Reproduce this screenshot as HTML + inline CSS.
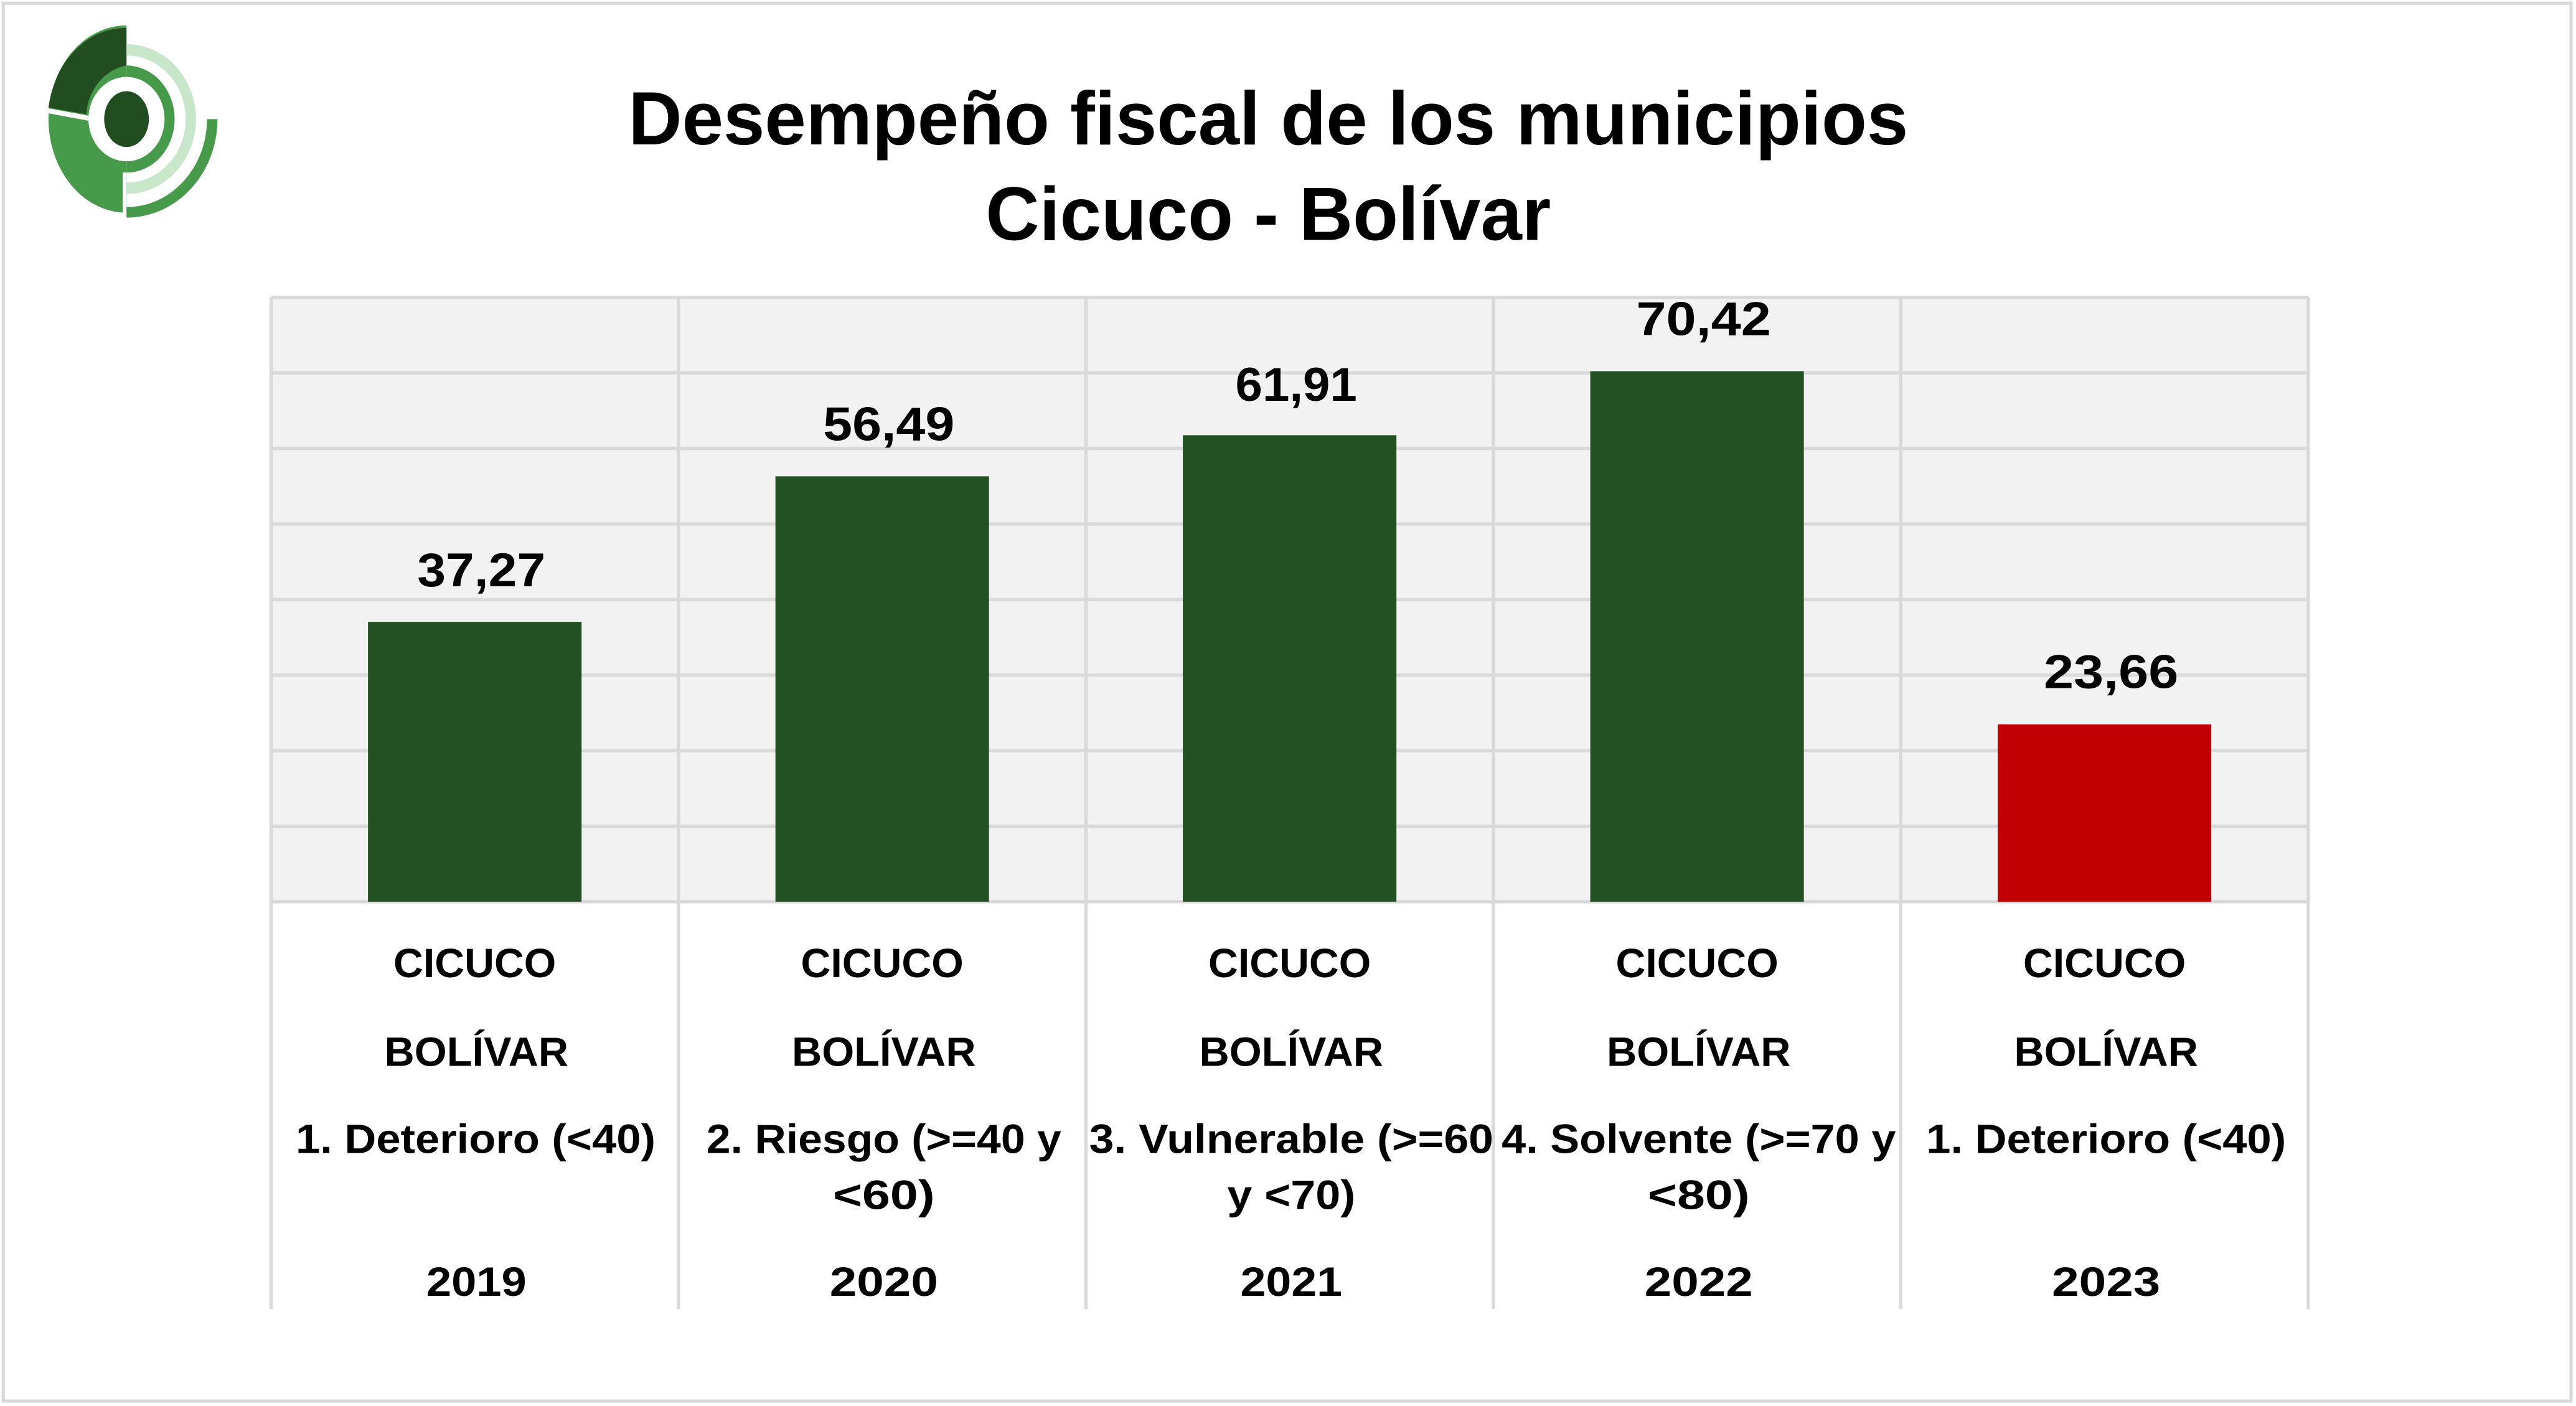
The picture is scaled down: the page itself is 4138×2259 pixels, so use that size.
<!DOCTYPE html>
<html><head><meta charset="utf-8"><style>
html,body{margin:0;padding:0;background:#fff;}
svg{display:block;}
text{font-family:"Liberation Sans Narrow","Liberation Sans",sans-serif;font-weight:bold;fill:#000;}
</style></head><body>
<svg width="4138" height="2259" viewBox="0 0 1568 856" xmlns="http://www.w3.org/2000/svg">
<rect x="0" y="0" width="1568" height="856" fill="#fff"/>
<rect x="2" y="2" width="1563" height="851" fill="none" stroke="#d9d9d9" stroke-width="2"/>
<!-- logo -->
<g>
<path d="M77,15.5 A47.5 57 0 0 0 77,129.5 L77,98.2 A23.2 25.7 0 0 1 77,46.8 Z" fill="#469a49"/>
<path d="M77,39.9 A29.3 32.6 0 0 1 77,105.1 L77,98.2 A23.2 25.7 0 0 0 77,46.8 Z" fill="#469a49"/>
<path d="M77,17 L77,39.9 A29.3 32.6 0 0 0 52.5,69.5 L29.5,65.5 A47.5 57 0 0 1 77,17 Z" fill="#214d20"/>
<path d="M77,26.9 A42.3 45.6 0 0 1 77,118.1 L77,111.2 A36 38.7 0 0 0 77,33.8 Z" fill="#c8e6c9"/>
<path d="M132.4,72.5 A55.4 60 0 0 1 77,132.5 L77,126.1 A49 53.6 0 0 0 126,72.5 Z" fill="#469a49"/>
<line x1="27" y1="67" x2="54" y2="72" stroke="#fff" stroke-width="3"/>
<line x1="75.8" y1="105" x2="75.8" y2="134" stroke="#fff" stroke-width="2.2"/>
<ellipse cx="77" cy="72.5" rx="13.6" ry="17" fill="#214d20"/>
</g>
<!-- title -->
<text x="772" y="88" font-size="46" text-anchor="middle" textLength="779" lengthAdjust="spacingAndGlyphs">Desempeño fiscal de los municipios</text>
<text x="772" y="146" font-size="46" text-anchor="middle" textLength="344" lengthAdjust="spacingAndGlyphs">Cicuco - Bolívar</text>
<!-- plot -->
<rect x="165" y="181" width="1240" height="368" fill="#f2f2f2"/>
<g stroke="#d9d9d9" stroke-width="2">
<line x1="165" y1="181" x2="1405" y2="181"/>
<line x1="165" y1="227" x2="1405" y2="227"/>
<line x1="165" y1="273" x2="1405" y2="273"/>
<line x1="165" y1="319" x2="1405" y2="319"/>
<line x1="165" y1="365" x2="1405" y2="365"/>
<line x1="165" y1="411" x2="1405" y2="411"/>
<line x1="165" y1="457" x2="1405" y2="457"/>
<line x1="165" y1="503" x2="1405" y2="503"/>
<line x1="165" y1="549" x2="1405" y2="549"/>
<line x1="165" y1="181" x2="165" y2="797"/>
<line x1="413" y1="181" x2="413" y2="797"/>
<line x1="661" y1="181" x2="661" y2="797"/>
<line x1="909" y1="181" x2="909" y2="797"/>
<line x1="1157" y1="181" x2="1157" y2="797"/>
<line x1="1405" y1="181" x2="1405" y2="797"/>
</g>
<rect x="224" y="378.6" width="130" height="170.4" fill="#235123"/>
<rect x="472" y="290" width="130" height="259" fill="#235123"/>
<rect x="720" y="265" width="130" height="284" fill="#235123"/>
<rect x="968" y="226" width="130" height="323" fill="#235123"/>
<rect x="1216" y="441" width="130" height="108" fill="#c00000"/>
<g font-size="29" text-anchor="middle">
<text x="293" y="357" textLength="78" lengthAdjust="spacingAndGlyphs">37,27</text>
<text x="541" y="268" textLength="80" lengthAdjust="spacingAndGlyphs">56,49</text>
<text x="789" y="244" textLength="74" lengthAdjust="spacingAndGlyphs">61,91</text>
<text x="1037" y="204" textLength="82" lengthAdjust="spacingAndGlyphs">70,42</text>
<text x="1285" y="419" textLength="82" lengthAdjust="spacingAndGlyphs">23,66</text>
</g>
<g font-size="25" text-anchor="middle">
<text x="289" y="595" textLength="99" lengthAdjust="spacingAndGlyphs">CICUCO</text>
<text x="537" y="595" textLength="99" lengthAdjust="spacingAndGlyphs">CICUCO</text>
<text x="785" y="595" textLength="99" lengthAdjust="spacingAndGlyphs">CICUCO</text>
<text x="1033" y="595" textLength="99" lengthAdjust="spacingAndGlyphs">CICUCO</text>
<text x="1281" y="595" textLength="99" lengthAdjust="spacingAndGlyphs">CICUCO</text>
<text x="290" y="649" textLength="112" lengthAdjust="spacingAndGlyphs">BOLÍVAR</text>
<text x="538" y="649" textLength="112" lengthAdjust="spacingAndGlyphs">BOLÍVAR</text>
<text x="786" y="649" textLength="112" lengthAdjust="spacingAndGlyphs">BOLÍVAR</text>
<text x="1034" y="649" textLength="112" lengthAdjust="spacingAndGlyphs">BOLÍVAR</text>
<text x="1282" y="649" textLength="112" lengthAdjust="spacingAndGlyphs">BOLÍVAR</text>
<text x="289.5" y="702" textLength="219" lengthAdjust="spacingAndGlyphs">1. Deterioro (&lt;40)</text>
<text x="538" y="702" textLength="216" lengthAdjust="spacingAndGlyphs">2. Riesgo (&gt;=40 y</text>
<text x="538" y="736" textLength="62" lengthAdjust="spacingAndGlyphs">&lt;60)</text>
<text x="786" y="702" textLength="246" lengthAdjust="spacingAndGlyphs">3. Vulnerable (&gt;=60</text>
<text x="786" y="736" textLength="78" lengthAdjust="spacingAndGlyphs">y &lt;70)</text>
<text x="1034" y="702" textLength="240" lengthAdjust="spacingAndGlyphs">4. Solvente (&gt;=70 y</text>
<text x="1034" y="736" textLength="62" lengthAdjust="spacingAndGlyphs">&lt;80)</text>
<text x="1282" y="702" textLength="219" lengthAdjust="spacingAndGlyphs">1. Deterioro (&lt;40)</text>
<text x="290" y="789" textLength="61" lengthAdjust="spacingAndGlyphs">2019</text>
<text x="538" y="789" textLength="66" lengthAdjust="spacingAndGlyphs">2020</text>
<text x="786" y="789" textLength="62" lengthAdjust="spacingAndGlyphs">2021</text>
<text x="1034" y="789" textLength="66" lengthAdjust="spacingAndGlyphs">2022</text>
<text x="1282" y="789" textLength="66" lengthAdjust="spacingAndGlyphs">2023</text>
</g>
</svg>
</body></html>
